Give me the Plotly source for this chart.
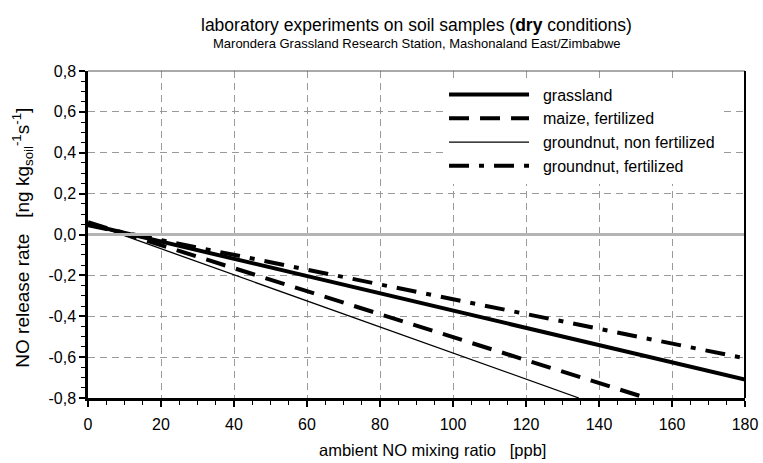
import plotly.graph_objects as go

# ---- data ----
x_grassland = [0, 180]
y_grassland = [0.05, -0.71]

x_maize = [0, 153]
y_maize = [0.06, -0.80]

x_gn_nonfert = [0, 134.5]
y_gn_nonfert = [0.058, -0.80]

x_gn_fert = [0, 180]
y_gn_fert = [0.045, -0.606]

series_names = ["grassland", "maize, fertilized", "groundnut, non fertilized", "groundnut, fertilized"]

x_tickvals = [0, 20, 40, 60, 80, 100, 120, 140, 160, 180]
x_ticktext = ["0", "20", "40", "60", "80", "100", "120", "140", "160", "180"]
y_tickvals = [-0.8, -0.6, -0.4, -0.2, 0.0, 0.2, 0.4, 0.6, 0.8]
y_ticktext = ["-0,8", "-0,6", "-0,4", "-0,2", "0,0", "0,2", "0,4", "0,6", "0,8"]

FONT = "Liberation Sans, Arial, sans-serif"
PAD = "\u00a0\u00a0"

fig = go.Figure()
fig.add_trace(go.Scatter(x=x_grassland, y=y_grassland, mode="lines", name=PAD + series_names[0],
                         line=dict(color="black", width=4)))
fig.add_trace(go.Scatter(x=x_maize, y=y_maize, mode="lines", name=PAD + series_names[1],
                         line=dict(color="black", width=4, dash="20px,11px")))
fig.add_trace(go.Scatter(x=x_gn_nonfert, y=y_gn_nonfert, mode="lines", name=PAD + series_names[2],
                         line=dict(color="black", width=1.3)))
fig.add_trace(go.Scatter(x=x_gn_fert, y=y_gn_fert, mode="lines", name=PAD + series_names[3],
                         line=dict(color="black", width=4, dash="20px,10px,5px,10px")))

grid = dict(showgrid=True, gridcolor="#9a9a9a", gridwidth=1, griddash="7px,5px")

fig.update_xaxes(range=[0, 180], tickvals=x_tickvals, ticktext=x_ticktext,
                 ticks="outside", ticklen=6, tickwidth=1.5, tickcolor="black",
                 ticklabelstandoff=4, automargin=False,
                 minor=dict(dtick=5, ticks="outside", ticklen=4, tickwidth=1.2, tickcolor="black", showgrid=False),
                 showline=True, linecolor="black", linewidth=2.5, zeroline=False,
                 tickfont=dict(family=FONT, size=16, color="black"), **grid)
fig.update_yaxes(range=[-0.8, 0.8], tickvals=y_tickvals, ticktext=y_ticktext,
                 ticks="outside", ticklen=6, tickwidth=1.5, tickcolor="black",
                 automargin=False,
                 minor=dict(dtick=0.05, ticks="outside", ticklen=4, tickwidth=1.2, tickcolor="black", showgrid=False),
                 showline=True, linecolor="black", linewidth=2.5, zeroline=False,
                 tickfont=dict(family=FONT, size=16, color="black"), **grid)

fig.update_layout(
    width=763, height=463,
    margin=dict(l=88, r=18, t=71, b=65, autoexpand=False),
    paper_bgcolor="white", plot_bgcolor="white",
    font=dict(family=FONT, color="black"),
    showlegend=True,
    legend=dict(x=0.962, y=0.98, xanchor="right", yanchor="top",
                bgcolor="white", borderwidth=0, itemwidth=80,
                font=dict(family=FONT, size=16, color="black"),
                tracegroupgap=0),
    shapes=[
        dict(type="line", xref="paper", yref="y", x0=0, x1=1, y0=0, y1=0,
             line=dict(color="#b4b4b4", width=3), layer="above"),
        dict(type="line", xref="paper", yref="paper", x0=0, x1=1, y0=1, y1=1,
             line=dict(color="#555555", width=1), layer="above"),
        dict(type="line", xref="paper", yref="paper", x0=1, x1=1, y0=0, y1=1,
             line=dict(color="black", width=2), layer="above"),
    ],
    annotations=[
        dict(text="laboratory experiments on soil samples (<b>dry</b> conditions)",
             xref="paper", yref="paper", x=0.5, y=1.141, xanchor="center", yanchor="middle",
             showarrow=False, font=dict(family=FONT, size=17.5, color="black")),
        dict(text="Marondera Grassland Research Station, Mashonaland East/Zimbabwe",
             xref="paper", yref="paper", x=0.5, y=1.084, xanchor="center", yanchor="middle",
             showarrow=False, font=dict(family=FONT, size=13, color="black")),
        dict(text="NO release rate   [ng kg<sub>soil</sub><sup>-1</sup>s<sup>-1</sup>]",
             xref="paper", yref="paper", x=-0.099, y=0.49, xanchor="center", yanchor="middle",
             textangle=-90, showarrow=False, font=dict(family=FONT, size=19, color="black")),
        dict(text="ambient NO mixing ratio   [ppb]",
             xref="paper", yref="paper", x=0.524, y=-0.159, xanchor="center", yanchor="middle",
             showarrow=False, font=dict(family=FONT, size=16.5, color="black")),
    ],
)

fig.write_html("out.html", config={"displayModeBar": False},
               post_script="document.body.style.margin='0';document.body.style.overflow='hidden';")
